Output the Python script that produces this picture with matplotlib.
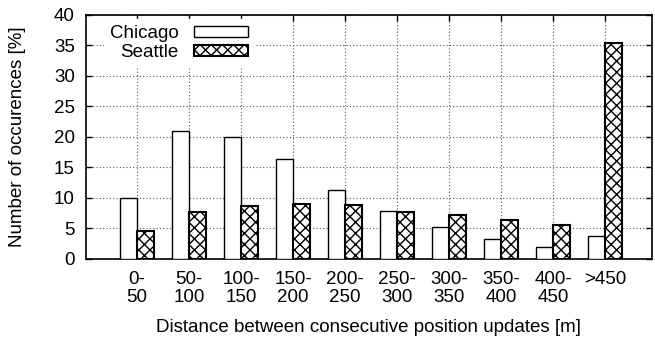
import matplotlib
matplotlib.use("Agg")
import matplotlib.pyplot as plt
import numpy as np

categories = ["0-\n50", "50-\n100", "100-\n150", "150-\n200", "200-\n250",
              "250-\n300", "300-\n350", "350-\n400", "400-\n450", ">450\n"]
chicago = [10.0, 21.0, 19.9, 16.4, 11.2, 7.9, 5.2, 3.2, 1.9, 3.7]
seattle = [4.6, 7.6, 8.6, 8.9, 8.8, 7.6, 7.1, 6.4, 5.6, 35.3]
yticks = [0, 5, 10, 15, 20, 25, 30, 35, 40]

plt.rcParams['font.family'] = ['Liberation Sans', 'DejaVu Sans']
plt.rcParams['hatch.linewidth'] = 1.0

FS = 13.5

fig = plt.figure(figsize=(6.55, 3.41), dpi=100)
ax = fig.add_axes([86/655, 1-258.7/341, (652-86)/655, 244/341])

x = np.arange(len(categories))
w = 0.33
ax.bar(x - w/2, chicago, w, facecolor='white', edgecolor='black', linewidth=1.0,
       label='Chicago', zorder=3)
ax.bar(x + w/2, seattle, w, facecolor='white', edgecolor='black', linewidth=1.5,
       hatch='xxx', label='Seattle', zorder=3)

ax.set_xlim(-0.98, 9.9)
ax.set_ylim(0, 40)
ax.set_yticks(yticks)
ax.set_xticks(x)
ax.set_xticklabels(categories, fontsize=FS, linespacing=1.1)
ax.tick_params(axis='y', labelsize=FS, pad=8)
ax.tick_params(direction='in', top=True, right=True, length=4, width=1)
ax.tick_params(axis='x', pad=9)
ax.grid(True, linestyle=(0, (1, 2)), color='#555555', linewidth=0.8, zorder=0)
ax.set_axisbelow(True)
for s in ax.spines.values():
    s.set_linewidth(1.2)

ax.set_xlabel("Distance between consecutive position updates [m]", fontsize=FS)
ax.xaxis.set_label_coords(0.5, -(327 - 258.7) / 244, transform=ax.transAxes)
ax.xaxis.label.set_va('center')
ax.set_ylabel("Number of occurences [%]", fontsize=FS)
ax.yaxis.set_label_coords((18 - 86) / 566, 0.5)
ax.yaxis.label.set_va('center')

leg = ax.legend(loc='upper left', bbox_to_anchor=(0.016, 1.019), markerfirst=False,
                frameon=True, fancybox=False, edgecolor='white', facecolor='white',
                framealpha=1.0,
                fontsize=FS, handlelength=2.9, handleheight=0.5,
                labelspacing=0.1, handletextpad=0.8, borderpad=0.3)
for t in leg.get_texts():
    t.set_ha('right')
leg.set_zorder(5)

fig.savefig("out.png", dpi=100)
